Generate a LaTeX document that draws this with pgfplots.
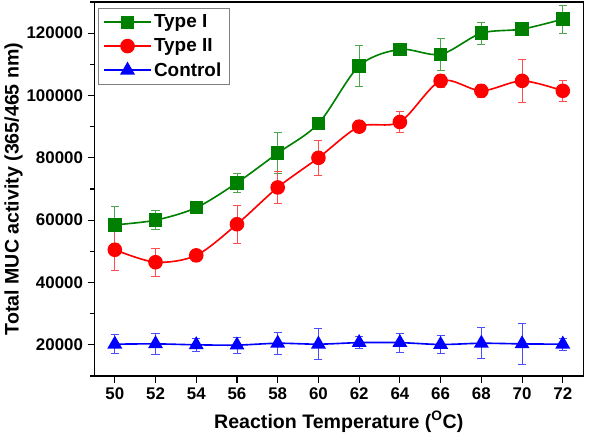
\documentclass[border=0pt]{standalone}
\usepackage{fontspec}
\setmainfont{Liberation Sans}
\usepackage{pgfplots}
\pgfplotsset{compat=1.18}
\definecolor{cgreen}{RGB}{0,128,0}
\definecolor{cred}{RGB}{255,0,0}
\definecolor{cblue}{RGB}{0,0,255}
\begin{document}
\begin{tikzpicture}
\begin{axis}[
  scale only axis, width=362pt, height=277pt,
  xmin=49, xmax=73, ymin=10000, ymax=130000,
  xtick={50,52,...,72},
  ytick={20000,40000,...,120000},
  minor ytick={10000,30000,...,130000},
  tick align=outside, tick pos=left,
  major tick length=5pt, minor tick length=3pt,
  tick style={black, line width=0.8pt},
  axis line style={line width=0.9pt},
  scaled y ticks=false,
  /pgf/number format/assume math mode=true,
  yticklabel={\pgfmathprintnumber[fixed,1000 sep={}]{\tick}},
  ticklabel style={font=\fontsize{12.5}{14}\selectfont\bfseries},
  xlabel={Reaction Temperature (\textsuperscript{O}C)},
  ylabel={Total MUC activity (365/465 nm)},
  label style={font=\fontsize{14.5}{17}\selectfont\bfseries},
  xlabel style={yshift=-2pt},
  ylabel style={yshift=-4pt},
  legend style={font=\fontsize{14}{16}\selectfont\bfseries, draw=gray, line width=0.6pt, inner xsep=4pt, inner ysep=3pt, row sep=2.5pt, at={(0.007,0.985)}, anchor=north west},
  legend cell align=left,
  legend image code/.code={\draw[#1, mark repeat=2, mark phase=2] plot coordinates {(0cm,0cm) (0.6cm,0cm) (1.2cm,0cm)};},
  every axis plot/.append style={smooth, tension=0.5, line width=1.2pt},
]
\addplot[color=cgreen, mark=square*, mark size=4.4pt, mark options={solid},
  error bars/.cd, y dir=both, y explicit,
  error bar style={line width=0.6pt, color=cgreen!70}, error mark options={line width=0.6pt, color=cgreen!70, mark size=3pt, rotate=90}]
coordinates {
(50,58500) +- (0,6000)
(52,60000) +- (0,3000)
(54,64000) +- (0,1000)
(56,72000) +- (0,3000)
(58,81500) +- (0,6500)
(60,91000) +- (0,2000)
(62,109500) +- (0,6500)
(64,114800) +- (0,1000)
(66,113200) +- (0,5000)
(68,120000) +- (0,3500)
(70,121300) +- (0,2000)
(72,124500) +- (0,4500)
};
\addlegendentry{Type I}
\addplot[color=cred, mark=*, mark size=4.8pt, mark options={solid},
  error bars/.cd, y dir=both, y explicit,
  error bar style={line width=0.6pt, color=cred!70}, error mark options={line width=0.6pt, color=cred!70, mark size=3pt, rotate=90}]
coordinates {
(50,50500) +- (0,6500)
(52,46500) +- (0,4500)
(54,48700) +- (0,2000)
(56,58700) +- (0,6000)
(58,70500) +- (0,5000)
(60,80000) +- (0,5500)
(62,90000) +- (0,2000)
(64,91500) +- (0,3500)
(66,104700) +- (0,2000)
(68,101500) +- (0,2000)
(70,104700) +- (0,7000)
(72,101500) +- (0,3500)
};
\addlegendentry{Type II}
\addplot[color=cblue, mark=triangle*, mark size=5.2pt, mark options={solid},
  error bars/.cd, y dir=both, y explicit,
  error bar style={line width=0.6pt, color=cblue!70}, error mark options={line width=0.6pt, color=cblue!70, mark size=3pt, rotate=90}]
coordinates {
(50,20200) +- (0,3000)
(52,20300) +- (0,3500)
(54,20000) +- (0,2000)
(56,19900) +- (0,2500)
(58,20500) +- (0,3500)
(60,20200) +- (0,5000)
(62,20700) +- (0,2000)
(64,20700) +- (0,3000)
(66,20100) +- (0,3000)
(68,20500) +- (0,5000)
(70,20300) +- (0,6500)
(72,20200) +- (0,2000)
};
\addlegendentry{Control}
\end{axis}
\path (current axis.south east) ++(11pt,0) (current axis.north east) ++(11pt,1.5pt);
\end{tikzpicture}
\end{document}
